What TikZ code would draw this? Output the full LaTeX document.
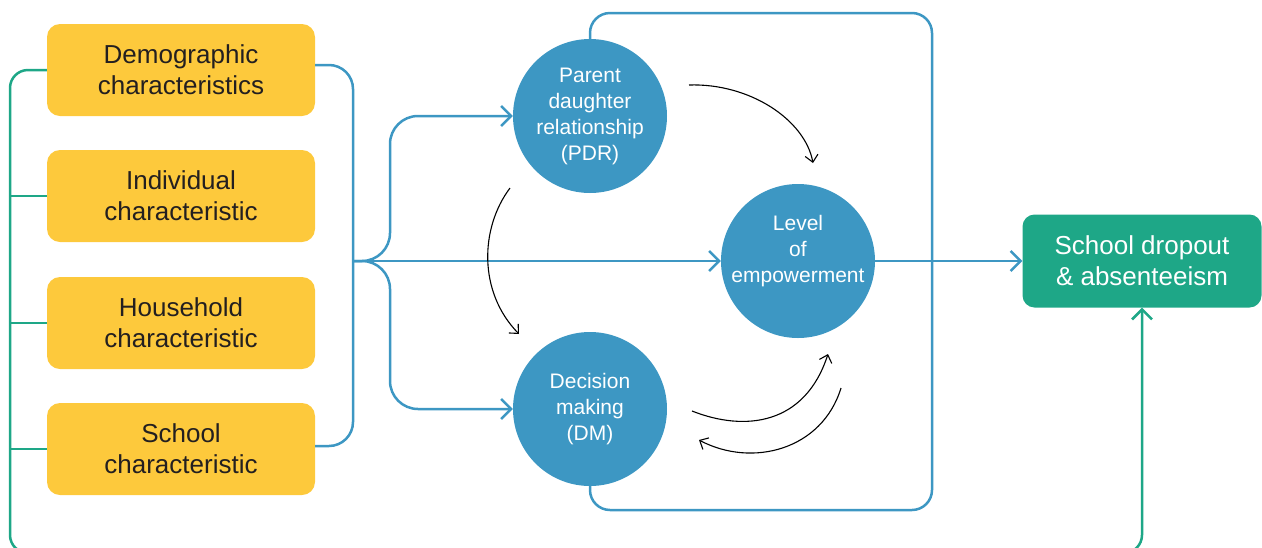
\documentclass[tikz,border=0pt]{standalone}
\usepackage{xcolor}
\usepackage{fontspec}
\setmainfont{Liberation Sans}
\usepackage{tikz}
\usetikzlibrary{arrows.meta}

\definecolor{boxyellow}{HTML}{FDC93C}
\definecolor{flowblue}{HTML}{3D97C3}
\definecolor{outgreen}{HTML}{1EA787}
\definecolor{inktext}{HTML}{231F20}

\newcommand{\boxfont}{\fontsize{26}{31}\selectfont}
\newcommand{\circfont}{\fontsize{21}{26}\selectfont}

\begin{document}
\begin{tikzpicture}[x=1pt, y=-1pt,
    factor/.style={rectangle, rounded corners=13pt, fill=boxyellow,
                   minimum width=268pt, minimum height=92pt, inner sep=0pt},
    bubble/.style={circle, fill=flowblue, minimum size=154pt, inner sep=0pt},
    flow/.style={draw=flowblue, line width=2.5pt,
                 >={Straight Barb[length=10pt,width=20pt]}},
    link/.style={draw=outgreen, line width=2.5pt,
                 >={Straight Barb[length=10pt,width=20pt]}},
    loopy/.style={->, draw=black, line width=1.1pt,
                  >={Straight Barb[length=7pt,width=13pt]}}]

    \useasboundingbox (0,0) rectangle (1262,547);

    % factors
    \node[factor] (demo) at (181,70) {};
    \node[text=inktext, align=center, font=\boxfont] at (demo.center) {Demographic\\characteristics};

    \node[factor] (indiv) at (181,196) {};
    \node[text=inktext, align=center, font=\boxfont] at (indiv.center) {Individual\\characteristic};

    \node[factor] (house) at (181,323) {};
    \node[text=inktext, align=center, font=\boxfont] at (house.center) {Household\\characteristic};

    \node[factor] (school) at (181,449) {};
    \node[text=inktext, align=center, font=\boxfont] at (school.center) {School\\characteristic};

    % mediators
    \node[bubble] (pdr) at (590,116) {};
    \node[text=white, align=center, font=\circfont] at (pdr.center) {Parent\\daughter\\relationship\\(PDR)};

    \node[bubble] (dm) at (590,409) {};
    \node[text=white, align=center, font=\circfont] at (dm.center) {Decision\\making\\(DM)};

    \node[bubble] (emp) at (798,261) {};
    \node[text=white, align=center, font=\circfont] at ([yshift=10pt]emp.center) {Level\\of\\empowerment};

    % outcome
    \node[rectangle,
          rounded corners=12pt,
          fill=outgreen,
          minimum width=239pt,
          minimum height=93pt,
          inner sep=0pt
          ] (drop) at (1142,261) {};
    \node[text=white, align=center, font=\boxfont] at (drop.center) {School dropout\\\& absenteeism};

    \coordinate (hub) at (353,261);
    \coordinate (split) at (390,261);
    \coordinate (rail) at (10,553);
    \coordinate (loopne) at (932,13);
    \coordinate (loopse) at (932,510);

    % blue bracket and fork
    \draw[flow, rounded corners=24pt] ([yshift=5pt]demo.east) -| (hub) |- ([yshift=3pt]school.east);
    \draw[flow, ->, rounded corners=28pt] (hub) -- (split) |- (pdr.west);
    \draw[flow, ->, rounded corners=28pt] (hub) -- (split) |- (dm.west);
    \draw[flow, ->] (hub) -- (emp.west);
    \draw[flow, ->] (emp.east) -- (drop.west);

    % loop round the mediators
    \draw[flow, rounded corners=20pt] (pdr.north) |- (loopne) -- (loopse) -| (dm.south);

    % green rail
    \draw[link, ->, rounded corners=18pt] (demo.west) -| (rail) -| (drop.south);
    \foreach \f in {indiv, house, school}
        \draw[link] (\f.west) -- (\f.west -| rail);

    % feedback arrows
    \coordinate (pe-a) at (689,85);
    \coordinate (pe-b) at (813,163);
    \coordinate (pd-a) at (510,188);
    \coordinate (pd-b) at (519,334);
    \coordinate (de-a) at (692,411);
    \coordinate (de-b) at (828,354);
    \coordinate (ed-a) at (841,388);
    \coordinate (ed-b) at (699,440);

    \draw[loopy] (pe-a) .. controls (750,83) and (805,120) .. (pe-b);
    \draw[loopy] (pd-a) .. controls (480,228) and (478,292) .. (pd-b);
    \draw[loopy] (de-a) .. controls (745,432) and (805,425) .. (de-b);
    \draw[loopy] (ed-a) .. controls (822,450) and (752,468) .. (ed-b);

\end{tikzpicture}
\end{document}
